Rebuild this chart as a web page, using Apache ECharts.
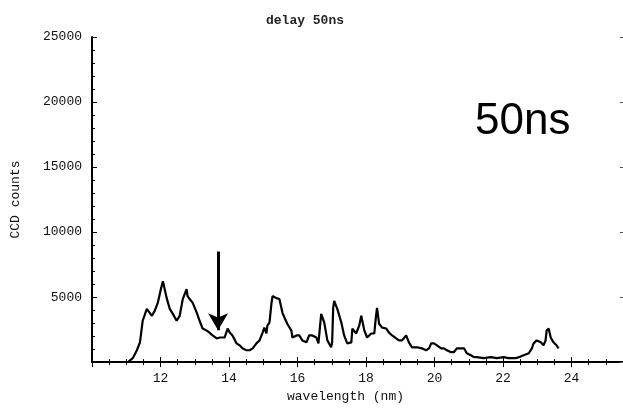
<!DOCTYPE html>
<html><head><meta charset="utf-8">
<script src="https://cdn.jsdelivr.net/npm/echarts@6/dist/echarts.min.js"></script>
<style>html,body{margin:0;padding:0;background:#fff}#c{width:623px;height:408px}</style>
</head><body><div id="c"></div>
<script>
// wavelength (nm)
const wavelength = [11.05,11.19,11.31,11.40,11.48,11.60,11.63,11.75,11.78,11.83,11.92,12.01,12.07,12.12,12.18,12.27,12.36,12.47,12.50,12.56,12.65,12.76,12.79,12.85,12.94,13.06,13.14,13.23,13.35,13.43,13.52,13.64,13.73,13.78,13.87,13.96,14.02,14.10,14.22,14.31,14.39,14.51,14.60,14.69,14.80,14.89,14.98,15.03,15.09,15.12,15.18,15.24,15.27,15.38,15.47,15.56,15.62,15.70,15.82,15.85,15.97,16.05,16.14,16.26,16.34,16.43,16.55,16.61,16.69,16.72,16.78,16.87,16.98,17.01,17.04,17.07,17.16,17.28,17.36,17.45,17.57,17.60,17.71,17.80,17.86,17.95,18.03,18.15,18.24,18.29,18.32,18.38,18.47,18.59,18.67,18.76,18.88,18.96,19.05,19.17,19.25,19.34,19.49,19.63,19.75,19.84,19.90,19.98,20.07,20.19,20.27,20.36,20.48,20.56,20.65,20.77,20.86,20.94,21.06,21.15,21.23,21.44,21.64,21.82,22.02,22.16,22.37,22.46,22.60,22.75,22.84,22.89,22.98,23.10,23.18,23.24,23.27,23.33,23.39,23.47,23.56,23.62];
// CCD counts
const counts = [0,300,910,1520,3180,4090,3940,3560,3410,3940,4550,5610,6210,6060,4920,4090,3710,3180,3180,3560,4850,5610,5080,4850,4550,3790,3180,2580,2420,2270,2050,1820,1890,1820,1890,2580,2270,2050,1440,1290,1060,910,910,1060,1440,1670,2270,2650,2200,2800,3030,4550,5080,4920,4850,3790,3410,2950,2420,1890,2050,2050,1670,1520,2050,2050,1890,1440,3710,3790,3030,1670,1140,1520,4170,4700,4090,3030,2050,1440,1520,2580,2200,2800,3560,2420,1890,2200,2200,3560,4170,2950,2650,2580,2270,2050,1820,1670,1670,2050,1520,1140,1140,1060,910,1060,1440,1440,1290,1060,1060,910,760,760,1060,1060,1060,680,530,380,380,300,380,300,380,300,300,380,530,680,1060,1440,1670,1520,1290,1670,2420,2580,1890,1520,1290,1060];
// arrow annotation: [wavelength, top value, tip value]
const arrowAt = [13.68, 8500, 2450];
const titleText = 'delay 50ns';
const noteText = '50ns';
const xName = 'wavelength (nm)';
const yName = 'CCD counts';

const mono = '"Liberation Mono", "DejaVu Sans Mono", monospace';
const pts = wavelength.map((w, i) => [w, counts[i]]);
const chart = echarts.init(document.getElementById('c'), null, {renderer: 'canvas'});
const axLine = {show: true, lineStyle: {color: '#000', width: 2}};
chart.setOption({
  animation: false,
  backgroundColor: '#fff',
  title: {text: titleText, left: 300, top: 9, textAlign: 'center',
    textStyle: {fontFamily: mono, fontSize: 13, fontWeight: 'bold', color: '#222'}},
  grid: {left: 92, top: 37, right: 0, bottom: 41},
  graphic: [{type: 'text', left: 475, top: 100,
    style: {text: noteText, font: '44px "Liberation Sans", Arial, sans-serif', fill: '#000'}}],
  xAxis: [{
    type: 'value', min: 10, max: 25.5, interval: 2, position: 'bottom',
    name: xName, nameLocation: 'middle', nameGap: 26,
    nameTextStyle: {fontFamily: mono, fontSize: 13, color: '#111', padding: [0, 24, 0, 0]},
    axisLine: axLine,
    axisTick: {inside: true, length: 5, lineStyle: {color: '#000'}},
    minorTick: {show: true, splitNumber: 4, length: 3, lineStyle: {color: '#000'}},
    axisLabel: {fontFamily: mono, fontSize: 13, color: '#111', margin: 10, showMinLabel: false, showMaxLabel: false},
    splitLine: {show: false}
  }, {
    type: 'value', min: 10, max: 25.5, interval: 2, position: 'top',
    axisLine: axLine,
    axisTick: {inside: true, length: 5, lineStyle: {color: '#000'}},
    minorTick: {show: true, splitNumber: 4, length: 3, lineStyle: {color: '#000'}},
    axisLabel: {show: false}, splitLine: {show: false}
  }],
  yAxis: [{
    type: 'value', min: 0, max: 25000, interval: 5000, position: 'left',
    name: yName, nameLocation: 'middle', nameGap: 70, nameRotate: 90,
    nameTextStyle: {fontFamily: mono, fontSize: 13, color: '#111'},
    axisLine: axLine,
    axisTick: {inside: true, length: 5, lineStyle: {color: '#000'}},
    minorTick: {show: true, splitNumber: 5, length: 3, lineStyle: {color: '#000'}},
    axisLabel: {fontFamily: mono, fontSize: 13, color: '#111', margin: 10, showMinLabel: false,
      formatter: v => String(v)},
    splitLine: {show: false}
  }, {
    type: 'value', min: 0, max: 25000, interval: 5000, position: 'right',
    axisLine: {show: false},
    axisTick: {show: true, inside: true, length: 3, lineStyle: {color: '#555'}},
    minorTick: {show: false},
    axisLabel: {show: false}, splitLine: {show: false}
  }],
  series: [{
    type: 'line', data: pts, showSymbol: false, symbol: 'none',
    lineStyle: {color: '#000', width: 2.2}, silent: true,
    markLine: {
      silent: true, symbol: ['none', 'arrow'], symbolSize: [15, 17],
      lineStyle: {color: '#000', width: 3, type: 'solid'},
      label: {show: false},
      data: [[{coord: [arrowAt[0], arrowAt[1]]}, {coord: [arrowAt[0], arrowAt[2]]}]]
    }
  }]
});
</script></body></html>
